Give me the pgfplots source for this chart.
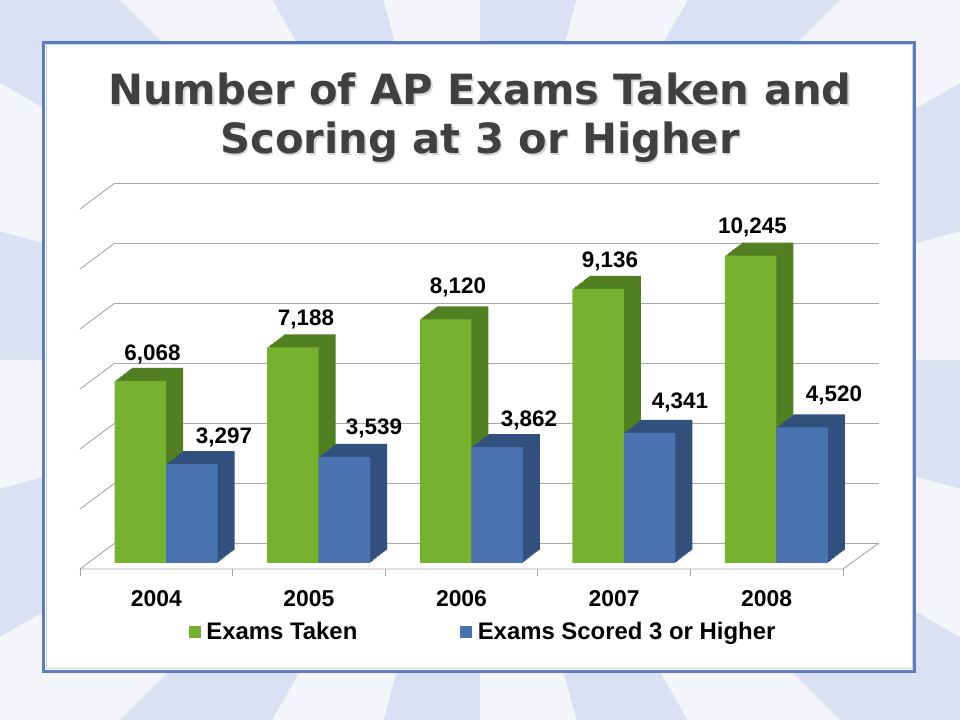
\documentclass[border=0pt]{standalone}
\usepackage{pgfplots}
\pgfplotsset{compat=1.18}
\usepackage{pgfplotstable}
\usepackage{fontspec}
\setmainfont{Liberation Sans}
\newfontfamily\titlefont{DejaVu Sans}
\definecolor{gfront}{HTML}{76B22E}
\definecolor{gside}{HTML}{527F22}
\definecolor{bfront}{HTML}{4A72B0}
\definecolor{bside}{HTML}{31507E}
\definecolor{bgA}{HTML}{DAE1F2}
\definecolor{bgB}{HTML}{F3F5FA}
\definecolor{panelblue}{HTML}{5B7DBE}
\definecolor{gridgray}{HTML}{A6A6A6}
\definecolor{titlegray}{HTML}{404040}

\pgfplotstableread{
x taken tl tdx tdy scored sl sdx sdy
0 6068 6,068 -3.8 20 3297 3,297 67.7 21
1 7188 7,188 -2.9 22 3539 3,539 65.1 22
2 8120 8,120 -3.5 26 3862 3,862 67.5 21
3 9136 9,136 -4.1 21 4341 4,341 65.9 24
4 10245 10,245 -14.2 22 4520 4,520 67.3 26
}\data

\begin{document}
\begin{tikzpicture}[x=1bp,y=1bp]
\useasboundingbox (0,0) rectangle (960,720);
\begin{scope}
\clip (0,0) rectangle (960,720);
\fill[bgA] (0,0) rectangle (960,720);
\foreach \a in {0,30,...,330} \fill[bgB] (480,360) -- +(\a:1000) -- +(\a+15:1000) -- cycle;
\end{scope}
% panel
\draw[panelblue, line width=3bp, fill=white] (43.5,48.5) rectangle (914.5,677.5);
\draw[panelblue!35, line width=1bp] (46,51) rectangle (912,675);

% back wall
\begin{axis}[at={(115bp,177bp)}, anchor=south west, scale only axis,
  width=764bp, height=360bp, xmin=0, xmax=1, ymin=0, ymax=12000,
  axis line style={draw=none}, xtick=\empty, ytick={0,2000,4000,6000,8000,10000,12000},
  yticklabels={,,,,,,}, scaled y ticks=false, major tick length=0pt, ymajorgrids,
  grid style={gridgray, line width=0.9bp}, clip=false]
\addplot[draw=none, forget plot] coordinates {(0,0) (1,12000)};
\pgfplotsinvokeforeach{0,2000,4000,6000,8000,10000,12000}{
  \draw[gridgray, line width=0.9bp] (axis cs:0,#1) -- ++(-35bp,-26bp);
}
\draw[gridgray, line width=0.9bp] (axis cs:0,0) ++(-35bp,-26bp) -- ++(763bp,0bp) -- (axis cs:1,0);
\end{axis}

% bars
\begin{axis}[at={(80bp,151bp)}, anchor=south west, scale only axis,
  width=763bp, height=366bp, xmin=-0.5, xmax=4.5, ymin=-200, ymax=12000,
  clip=false, axis line style={draw=none}, ytick=\empty,
  xtick={0,1,2,3,4}, xticklabels={2004,2005,2006,2007,2008},
  minor xtick={-0.5,0.5,1.5,2.5,3.5,4.5}, xtick pos=lower, tick align=outside,
  major tick length=0pt, minor tick length=7bp,
  minor tick style={gridgray, line width=0.9bp},
  xticklabel style={font=\fontsize{23}{23}\selectfont\bfseries, anchor=base, yshift=-38bp},
  bar width=51.5bp,
  legend columns=2,
  legend style={draw=none, fill=none, at={(0.1425,-0.172)}, anchor=west,
    font=\fontsize{24}{24}\selectfont\bfseries, inner sep=0pt,
    /tikz/every odd column/.append style={column sep=4bp},
    /tikz/every even column/.append style={column sep=101bp}},
  ]
\pgfplotsinvokeforeach{1,...,12}{
  \addplot[ybar, forget plot, draw=none, fill=gside, bar shift={-16bp+17bp*#1/12}, yshift={13bp*#1/12}]
    table[x=x,y=taken]{\data};
}
\addplot[ybar, forget plot, draw=none, fill=gfront, bar shift=-16bp,
  point meta=explicit symbolic, nodes near coords,
  visualization depends on={\thisrow{tdx}\as\tdx},
  visualization depends on={\thisrow{tdy}\as\tdy},
  every node near coord/.append style={anchor=base, xshift=\tdx bp, yshift=\tdy bp,
    font=\fontsize{22.5}{23}\selectfont\bfseries, text=black}]
  table[x=x,y=taken,meta=tl]{\data};
\pgfplotsinvokeforeach{1,...,12}{
  \addplot[ybar, forget plot, draw=none, fill=bside, bar shift={35.5bp+17bp*#1/12}, yshift={13bp*#1/12}]
    table[x=x,y=scored]{\data};
}
\addplot[ybar, forget plot, draw=none, fill=bfront, bar shift=35.5bp,
  point meta=explicit symbolic, nodes near coords,
  visualization depends on={\thisrow{sdx}\as\sdx},
  visualization depends on={\thisrow{sdy}\as\sdy},
  every node near coord/.append style={anchor=base, xshift=\sdx bp, yshift=\sdy bp,
    font=\fontsize{22.5}{23}\selectfont\bfseries, text=black}]
  table[x=x,y=scored,meta=sl]{\data};
\addlegendimage{legend image code/.code={\fill[gfront] (0bp,-5.5bp) rectangle (11bp,5.5bp);}}
\addlegendentry{Exams Taken}
\addlegendimage{legend image code/.code={\fill[bfront] (0bp,-5.5bp) rectangle (11bp,5.5bp);}}
\addlegendentry{Exams Scored 3 or Higher}
\end{axis}

% title
\node[anchor=base, font=\titlefont\bfseries\fontsize{41.8}{49}\selectfont, text=black!16] at (481.5,613.5) {Number of AP Exams Taken and};
\node[anchor=base, font=\titlefont\bfseries\fontsize{41.8}{49}\selectfont, text=titlegray] at (480,615) {Number of AP Exams Taken and};
\node[anchor=base, font=\titlefont\bfseries\fontsize{41.8}{49}\selectfont, text=black!16] at (481.5,564.5) {Scoring at 3 or Higher};
\node[anchor=base, font=\titlefont\bfseries\fontsize{41.8}{49}\selectfont, text=titlegray] at (480,566) {Scoring at 3 or Higher};
\end{tikzpicture}
\end{document}
